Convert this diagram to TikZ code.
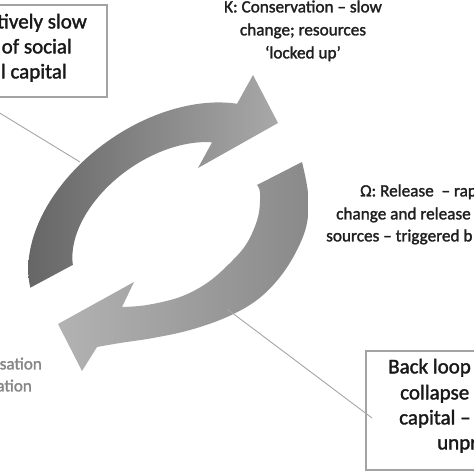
\documentclass[tikz,border=0pt]{standalone}
\usepackage{fontspec}
\setmainfont{Carlito}[FakeBold=1.6]
\begin{document}
\begin{tikzpicture}[x=1pt,y=-1pt,
  txt/.style={inner sep=0pt,font=\fontsize{17.2}{20}\selectfont,text=black!88},
  boxtxt/.style={inner sep=0pt,font=\fontsize{21}{24}\selectfont,text=black!90},
  graytxt/.style={inner sep=0pt,font=\fontsize{17}{20}\selectfont,text=black!48},
  framebox/.style={draw=black!36,line width=1.5pt},
  conn/.style={draw=black!35,line width=0.9pt}]
\useasboundingbox (0,0) rectangle (474,474);
\clip (0,0) rectangle (474,474);
\fill[white] (0,0) rectangle (474,474);

% upper arrow (elliptic band, centre (167.3,224), tilted 35 degrees)
\shade[left color=black!60,right color=black!34]
  plot[domain=195:325,samples=50,variable=\t]
    ({167.3+154*cos(\t)*cos(35)+102*sin(\t)*sin(35)},{224-154*cos(\t)*sin(35)+102*sin(\t)*cos(35)})
  -- (253,75) -- (278,123) -- (198,168)
  -- plot[domain=322:198,samples=50,variable=\t]
    ({167.3+106*cos(\t)*cos(35)+67*sin(\t)*sin(35)},{224-106*cos(\t)*sin(35)+67*sin(\t)*cos(35)})
  -- cycle;
% lower arrow
\shade[left color=black!30,right color=black!46]
  (302,162) -- plot[smooth,tension=0.6] coordinates {(302,162) (308,193) (307,223) (297,250) (280,277) (257,300) (227,317) (190,330) (153,338) (120,343) (97,347)}
  -- (82,371) -- (58,324) -- (134,282) -- (122,307)
  -- plot[smooth,tension=0.6] coordinates {(122,307) (147,305) (180,297) (207,283) (230,263) (247,243) (258,217) (260,193) (257,185)}
  -- cycle;

% boxes
\node[framebox,minimum width=200pt,minimum height=92pt,inner sep=0pt] (tlbox) at (7,51) {};
\node[framebox,minimum width=200pt,minimum height=119pt,inner sep=0pt] (brbox) at (466,410.5) {};

% connectors
\coordinate (tlfoot) at (-20,101);
\coordinate (uaedge) at (80,162);
\coordinate (laedge) at (227,309);
\coordinate (brleft) at (372,418);
\draw[conn] (tlfoot) -- (uaedge);
\draw[conn] (laedge) -- (brleft);

% top-left box text
\node[boxtxt,anchor=mid east] (tl1) at (87,26) {tively slow};
\node[boxtxt,anchor=mid east] (tl2) at (72,51) {of social};
\node[boxtxt,anchor=mid east] (tl3) at (67,76) {l capital};

% K text
\node[txt,anchor=mid] (k1) at (303,10) {K: Conservation – slow};
\node[txt,anchor=mid] (k2) at (303,33) {change; resources};
\node[txt,anchor=mid] (k3) at (303,56) {‘locked up’};

% Omega text
\node[txt,anchor=mid west] (o1) at (360,194) {Ω: Release \ – rap};
\node[txt,anchor=mid west] (o2) at (336,217) {change and release};
\node[txt,anchor=mid west] (o3) at (326,239) {sources – triggered b};

% alpha text (gray)
\node[graytxt,anchor=mid east] (a1) at (42,367) {sation};
\node[graytxt,anchor=mid east] (a2) at (32,389) {ation};

% bottom-right box text
\node[boxtxt,anchor=mid west] (b1) at (388,371) {Back loop};
\node[boxtxt,anchor=mid west] (b2) at (400,397) {collapse};
\node[boxtxt,anchor=mid west] (b3) at (399,422) {capital –};
\node[boxtxt,anchor=mid west] (b4) at (437,447) {unpr};
\end{tikzpicture}
\end{document}
